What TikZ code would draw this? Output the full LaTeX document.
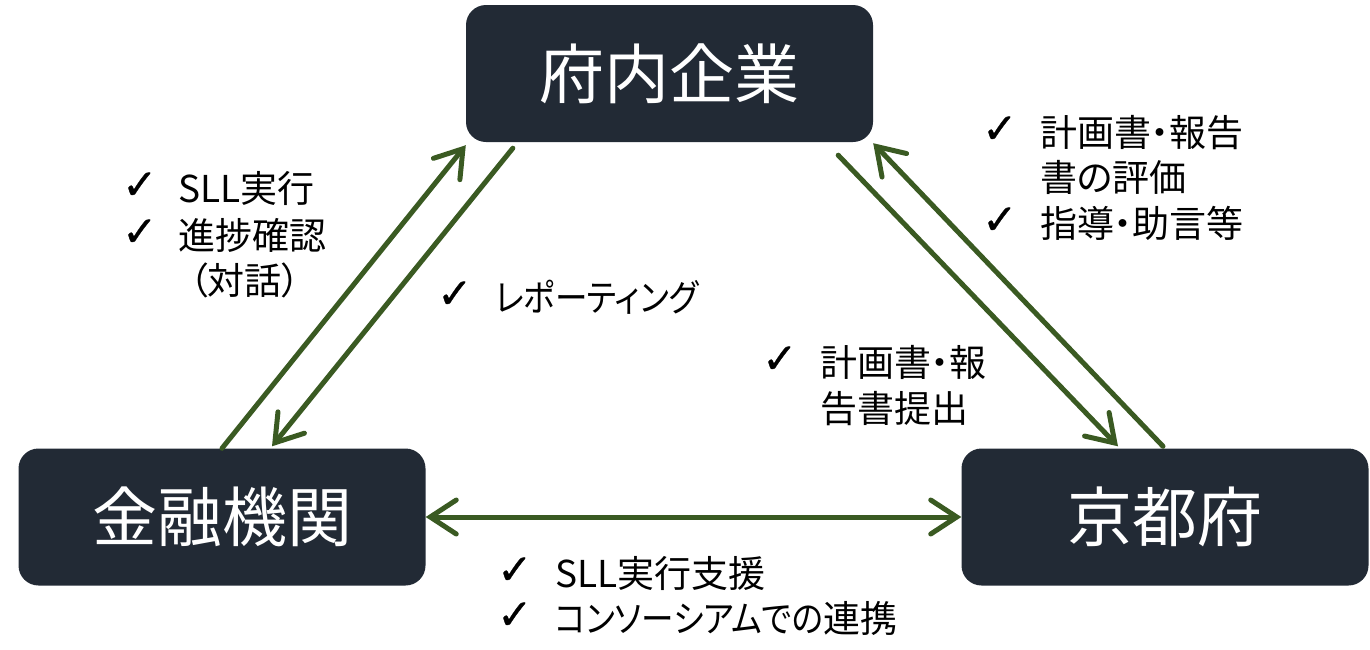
\documentclass[tikz,border=0pt]{standalone}
\usepackage{fontspec}
\setmainfont{Noto Sans CJK JP}[RawFeature=+palt]
\newfontfamily\kana{Noto Sans CJK JP}[RawFeature=+palt,FakeStretch=0.88]
\newfontfamily\ckfont{DejaVu Sans}[FakeBold=0.8]
\usetikzlibrary{arrows.meta,calc}
\definecolor{boxc}{HTML}{222A35}
\definecolor{arrc}{HTML}{3A5A22}
\tikzset{
  org/.style={draw=none,fill=boxc,rounded corners=20pt,minimum width=407pt,minimum height=137pt,inner sep=0pt,text=white,font=\fontsize{65}{70}\selectfont},
  lnk/.style={draw=arrc,line width=5pt,line cap=round,-{Straight Barb[length=26pt,width=34pt,line cap=round,line width=5pt]}},
  lnkb/.style={draw=arrc,line width=5pt,line cap=round,{Straight Barb[length=26pt,width=34pt,line cap=round,line width=5pt]}-{Straight Barb[length=26pt,width=34pt,line cap=round,line width=5pt]}},
  ck/.style={anchor=base west,inner sep=0pt,font=\ckfont\fontsize{42}{48}\selectfont},
  tx/.style={anchor=base west,inner sep=0pt,font=\fontsize{37}{40}\selectfont},
}
\begin{document}
\begin{tikzpicture}[x=1pt,y=-1pt]
\useasboundingbox (0,0) rectangle (1370,649);
\node[org] (fu) at (669.5,73.5) {府内企業};
\node[org] (kin) at (222,517) {金融機関};
\node[org] (kyo) at (1165,517) {京都府};

\draw[lnk] (kin.north) -- ($(fu.south west)+(0,3)$);
\draw[lnk] ($(fu.south west)+(47,6)$) -- ($(kin.north)+(50,-2)$);
\draw[lnk] ($(fu.south east)+(-35,13)$) -- ($(kyo.north)+(-47,-2)$);
\draw[lnk] ($(kyo.north)+(-2,-2)$) -- ($(fu.south east)+(0,1)$);
\draw[lnkb] (kin.east) -- (kyo.west);

% left block
\node[ck] (c1) at (122,199) {✓};
\node[tx] (t1) at (178,202) {SLL実行};
\node[ck] (c2) at (122,246) {✓};
\node[tx] (t2) at (178,249) {進捗確認};
\node[tx] (t3) at (189,294) {（対話）};
% reporting
\node[ck] (c4) at (437,308) {✓};
\node[tx] (t4) at (495,311) {\kana レポーティング};
% right top
\node[ck] (c5) at (982,143) {✓};
\node[tx] (t5) at (1040,146) {計画書・報告};
\node[tx] (t6) at (1040,191) {書の評価};
\node[ck] (c7) at (982,234) {✓};
\node[tx] (t7) at (1040,237) {指導・助言等};
% mid right
\node[ck] (c8) at (762,373) {✓};
\node[tx] (t8) at (820,376) {計画書・報};
\node[tx] (t9) at (820,422) {告書提出};
% bottom
\node[ck] (c10) at (497,584) {✓};
\node[tx] (t10) at (555,587) {SLL実行支援};
\node[ck] (c11) at (497,629) {✓};
\node[tx] (t11) at (555,632) {{\kana コンソーシアムでの}連携};
\end{tikzpicture}
\end{document}
